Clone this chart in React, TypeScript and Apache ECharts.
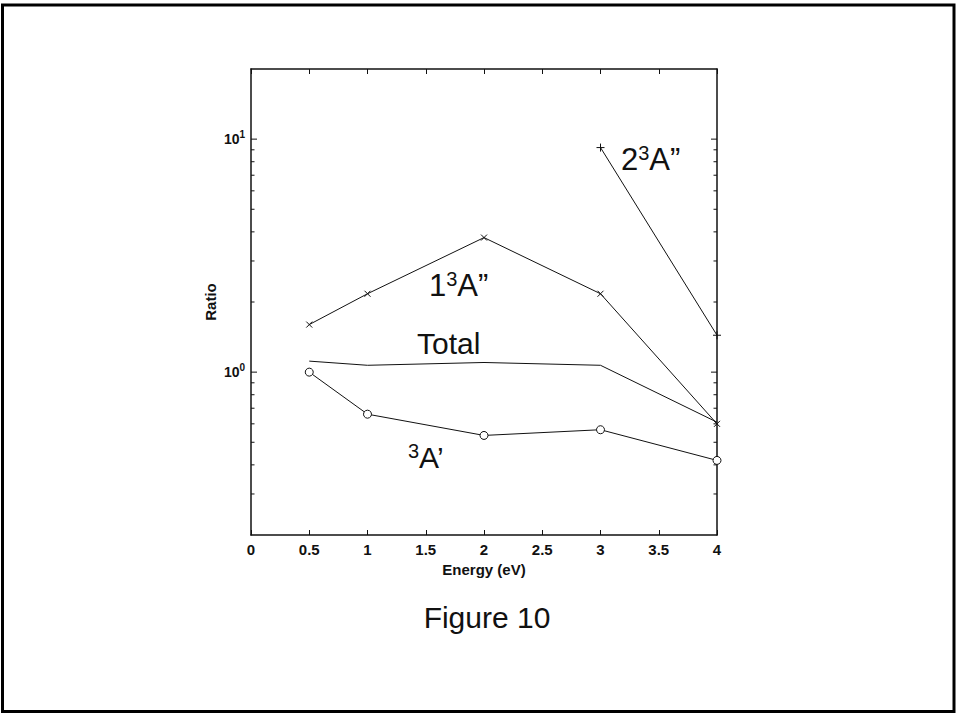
import React, { useEffect, useRef } from "react";
import * as echarts from "echarts";

// ---- data ----
const energies = [0.5, 1, 2, 3, 4];
const state1A2 = [1.6, 2.17, 3.78, 2.17, 0.6]; // 1³A''
const state2A2Energies = [3, 4];
const state2A2 = [9.2, 1.44]; // 2³A''
const totalRatio = [1.115, 1.07, 1.1, 1.07, 0.61];
const stateA1 = [1.0, 0.66, 0.535, 0.566, 0.418]; // ³A'
const xTicks = [0, 0.5, 1, 1.5, 2, 2.5, 3, 3.5, 4];
const yMajorTicks = [1, 10];
const yMinorTicks = [0.3, 0.4, 0.5, 0.6, 0.7, 0.8, 0.9, 2, 3, 4, 5, 6, 7, 8, 9];

const FONT = "'Liberation Sans', Arial, Helvetica, sans-serif";

const pairs = (xs: number[], ys: number[]) => xs.map((x, i) => [x, ys[i]]);

const supRich = (size: number) => ({
  n: { fontSize: size, fontFamily: FONT, color: "#111" },
  s: { fontSize: Math.round(size * 0.65), fontFamily: FONT, color: "#111", padding: [0, 0, Math.round(size * 0.4), 0] },
});

export default function App() {
  const ref = useRef<HTMLDivElement>(null);
  useEffect(() => {
    if (!ref.current) return;
    const chart = echarts.init(ref.current, undefined, { renderer: "svg" });
    const lineColor = "#111";
    const tickData = [
      ...yMajorTicks.map((v) => [0, v, 6]),
      ...yMinorTicks.map((v) => [0, v, 3.5]),
    ];
    const option: any = {
      animation: false,
      backgroundColor: "#fff",
      textStyle: { fontFamily: FONT },
      grid: { left: 251, top: 69, width: 466, height: 466 },
      xAxis: [
        {
          type: "value",
          min: xTicks[0],
          max: xTicks[xTicks.length - 1],
          interval: 0.5,
          position: "bottom",
          name: "Energy (eV)",
          nameLocation: "middle",
          nameGap: 27,
          nameTextStyle: { fontSize: 15, fontWeight: "bold", color: "#111", fontFamily: FONT },
          axisLine: { onZero: false, lineStyle: { color: "#111", width: 1.5 } },
          axisTick: { inside: true, length: 5, lineStyle: { color: "#111" } },
          axisLabel: {
            color: "#111",
            fontSize: 15,
            fontWeight: "bold",
            fontFamily: FONT,
            margin: 7,
            showMinLabel: true,
            showMaxLabel: true,
          },
          splitLine: { show: false },
        },
        {
          type: "value",
          min: xTicks[0],
          max: xTicks[xTicks.length - 1],
          interval: 0.5,
          position: "top",
          axisLine: { onZero: false, lineStyle: { color: "#111", width: 1.5 } },
          axisTick: { inside: true, length: 5, lineStyle: { color: "#111" } },
          axisLabel: { show: false },
          splitLine: { show: false },
        },
      ],
      yAxis: [
        {
          type: "log",
          logBase: 10,
          min: 0.2,
          max: 20,
          position: "left",
          name: "Ratio",
          nameLocation: "middle",
          nameGap: 33,
          nameRotate: 90,
          nameTextStyle: { fontSize: 15, fontWeight: "bold", color: "#111", fontFamily: FONT },
          axisLine: { show: true, onZero: false, lineStyle: { color: "#111", width: 1.5 } },
          axisTick: { show: false },
          axisLabel: {
            color: "#111",
            margin: 6,
            showMinLabel: true,
            showMaxLabel: true,
            formatter: (v: number) => {
              const e = Math.log10(v);
              if (Math.abs(e - Math.round(e)) > 1e-6) return "";
              return "{a|10}{b|" + Math.round(e) + "}";
            },
            rich: {
              a: { fontSize: 14, fontWeight: "bold", fontFamily: FONT, color: "#111" },
              b: { fontSize: 10, fontWeight: "bold", fontFamily: FONT, color: "#111", padding: [0, 0, 9, 0] },
            },
          },
          splitLine: { show: false },
        },
        {
          type: "log",
          logBase: 10,
          min: 0.2,
          max: 20,
          position: "right",
          axisLine: { show: true, onZero: false, lineStyle: { color: "#111", width: 1.5 } },
          axisTick: { show: false },
          axisLabel: { show: false },
          splitLine: { show: false },
        },
      ],
      series: [
        {
          type: "custom",
          name: "yTicks",
          xAxisIndex: 0,
          yAxisIndex: 0,
          clip: false,
          silent: true,
          data: tickData,
          renderItem: (params: any, api: any) => {
            const v = api.value(1);
            const len = api.value(2);
            const pL = api.coord([xTicks[0], v]);
            const pR = api.coord([xTicks[xTicks.length - 1], v]);
            return {
              type: "group",
              children: [
                {
                  type: "line",
                  shape: { x1: pL[0], y1: pL[1], x2: pL[0] + len, y2: pL[1] },
                  style: { stroke: "#111", lineWidth: 1 },
                },
                {
                  type: "line",
                  shape: { x1: pR[0], y1: pR[1], x2: pR[0] - len, y2: pR[1] },
                  style: { stroke: "#111", lineWidth: 1 },
                },
              ],
            };
          },
        },
        {
          type: "line",
          name: "1³A''",
          data: pairs(energies, state1A2),
          symbol: "path://M0,0L10,10M10,0L0,10",
          symbolSize: 6,
          itemStyle: { color: "none", borderColor: lineColor, borderWidth: 1 },
          lineStyle: { color: lineColor, width: 1 },
        },
        {
          type: "line",
          name: "2³A''",
          data: pairs(state2A2Energies, state2A2),
          symbol: "path://M5,0L5,10M0,5L10,5",
          symbolSize: 8,
          itemStyle: { color: "none", borderColor: lineColor, borderWidth: 1 },
          lineStyle: { color: lineColor, width: 1 },
        },
        {
          type: "line",
          name: "Total",
          data: pairs(energies, totalRatio),
          symbol: "none",
          lineStyle: { color: lineColor, width: 1 },
        },
        {
          type: "line",
          name: "³A'",
          data: pairs(energies, stateA1),
          symbol: "circle",
          symbolSize: 8,
          itemStyle: { color: "#fff", borderColor: lineColor, borderWidth: 1 },
          lineStyle: { color: lineColor, width: 1 },
        },
      ],
      graphic: [
        {
          type: "rect",
          shape: { x: 2.5, y: 5, width: 951.5, height: 706.5 },
          style: { fill: "none", stroke: "#000", lineWidth: 3 },
          silent: true,
        },
        {
          type: "text",
          style: { text: "{n|2}{s|3}{n|A”}", rich: supRich(31), x: 621, y: 159, fill: "#111", textVerticalAlign: "middle" },
        },
        {
          type: "text",
          style: { text: "{n|1}{s|3}{n|A”}", rich: supRich(31), x: 429, y: 285, fill: "#111", textVerticalAlign: "middle" },
        },
        {
          type: "text",
          style: { text: "Total", x: 417, y: 343, font: "30px " + FONT, fill: "#111", textVerticalAlign: "middle" },
        },
        {
          type: "text",
          style: { text: "{s|3}{n|A’}", rich: supRich(30), x: 408, y: 457, fill: "#111", textVerticalAlign: "middle" },
        },
        {
          type: "text",
          style: {
            text: "Figure 10",
            x: 487,
            y: 617,
            font: "30px " + FONT,
            fill: "#111",
            textAlign: "center",
            textVerticalAlign: "middle",
          },
        },
      ],
    };
    chart.setOption(option);
    return () => chart.dispose();
  }, []);
  return (
    <div
      ref={ref}
      style={{ position: "absolute", left: 0, top: 0, width: 956, height: 719, background: "#fff" }}
    />
  );
}
